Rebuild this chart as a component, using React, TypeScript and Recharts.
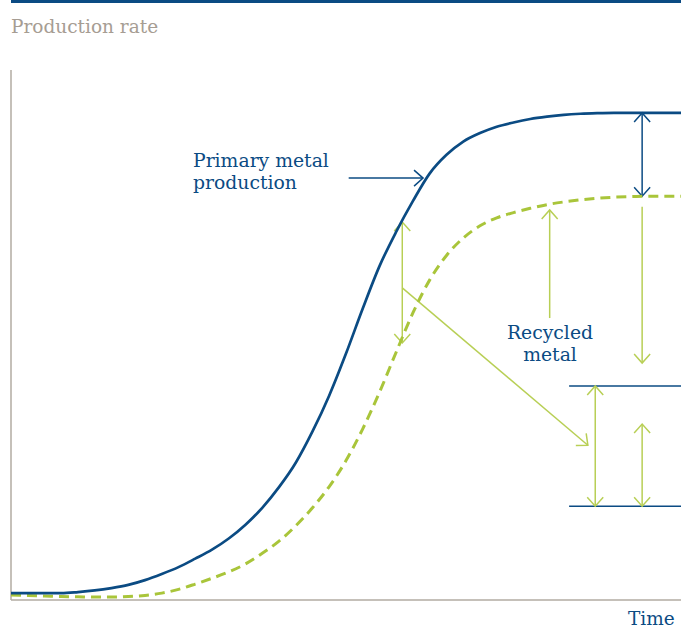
import { LineChart, Line, XAxis, YAxis, ReferenceLine } from 'recharts';

const BLUE = '#0b4b83';
const GREEN = '#a9c53a';
const GREEN_LIGHT = '#b8cf55';
const GRAY = '#b2aba2';

// time (0-100) and production rate (0-100)
const time = [
  0, 2.5, 5, 7.5, 10, 12.5, 15, 17.5, 20, 22.5, 25, 27.5, 30, 32.5, 35, 37.5, 40, 42.5, 45, 47.5,
  50, 52.5, 55, 57.5, 60, 62.5, 65, 67.5, 70, 72.5, 75, 77.5, 80, 82.5, 85, 87.5, 90, 92.5, 95, 97.5, 100,
];
const primary = [
  1.3, 1.3, 1.3, 1.3, 1.5, 1.8, 2.25, 2.85, 3.75, 4.9, 6.2, 7.8, 9.5, 11.6, 14.2, 17.4, 21.3, 25.9, 31.8, 38.6,
  46.5, 55.0, 63.0, 69.5, 75.3, 80.5, 84.0, 86.5, 88.1, 89.3, 90.1, 90.75, 91.2, 91.55, 91.75, 91.85, 91.9, 91.9, 91.9, 91.9, 91.9,
];
const recycled = [
  0.95, 0.85, 0.75, 0.65, 0.6, 0.57, 0.57, 0.65, 0.85, 1.3, 2.0, 3.0, 4.1, 5.3, 6.8, 8.8, 11.1, 14.0, 17.4, 21.4,
  26.3, 32.3, 39.2, 46.8, 54.2, 60.4, 65.0, 68.3, 70.6, 72.1, 73.1, 73.9, 74.6, 75.1, 75.5, 75.8, 76.0, 76.1, 76.2, 76.2, 76.2,
];

const data = time.map((t, i) => ({ t, primary: primary[i], recycled: recycled[i] }));

type Head = 'none' | 'end' | 'both';
interface Arrow {
  from: [number, number];
  to: [number, number];
  head: Head;
  color: string;
}

// annotation arrows, in chart units
const arrows: Arrow[] = [
  { from: [50.4, 79.6], to: [61.5, 79.6], head: 'end', color: BLUE },
  { from: [94.2, 76.2], to: [94.2, 91.9], head: 'both', color: BLUE },
  { from: [58.4, 48.5], to: [58.4, 71.3], head: 'both', color: GREEN_LIGHT },
  { from: [80.4, 53.2], to: [80.4, 73.6], head: 'end', color: GREEN_LIGHT },
  { from: [94.2, 74.2], to: [94.2, 44.7], head: 'end', color: GREEN_LIGHT },
  { from: [58.4, 58.9], to: [86.1, 29.2], head: 'end', color: GREEN_LIGHT },
  { from: [83.3, 40.4], to: [100, 40.4], head: 'none', color: BLUE },
  { from: [83.3, 17.7], to: [100, 17.7], head: 'none', color: BLUE },
  { from: [87.2, 17.7], to: [87.2, 40.4], head: 'both', color: GREEN_LIGHT },
  { from: [94.2, 17.7], to: [94.2, 33.2], head: 'both', color: GREEN_LIGHT },
];

function headPath(x1: number, y1: number, x2: number, y2: number) {
  const dx = x2 - x1;
  const dy = y2 - y1;
  const len = Math.hypot(dx, dy) || 1;
  const ux = dx / len;
  const uy = dy / len;
  const back = 9;
  const side = 8;
  const bx = x2 - ux * back;
  const by = y2 - uy * back;
  return `M${bx - uy * side},${by + ux * side} L${x2},${y2} L${bx + uy * side},${by - ux * side}`;
}

function arrowShape(head: Head, color: string) {
  return (p: any) => {
    const { x1, y1, x2, y2 } = p;
    return (
      <g>
        <line x1={x1} y1={y1} x2={x2} y2={y2} stroke={color} strokeWidth={1.5} />
        {head !== 'none' && <path d={headPath(x1, y1, x2, y2)} fill="none" stroke={color} strokeWidth={1.5} />}
        {head === 'both' && <path d={headPath(x2, y2, x1, y1)} fill="none" stroke={color} strokeWidth={1.5} />}
      </g>
    );
  };
}

const serif = '"DejaVu Serif", serif';
const labelText = { position: 'absolute' as const, fontFamily: serif, fontSize: 18.8, lineHeight: '22px', color: BLUE };

export default function App() {
  return (
    <div style={{ position: 'absolute', left: 0, top: 0, width: 681, height: 628, background: '#fff', overflow: 'hidden' }}>
      <div style={{ position: 'absolute', left: 11, top: 0, width: 670, height: 3, background: BLUE }} />
      <div style={{ ...labelText, left: 11, top: 16, fontSize: 18.5, color: '#a69d93' }}>Production rate</div>
      <LineChart width={681} height={628} data={data} margin={{ top: 70, right: 0, bottom: 28, left: 11 }}>
        <XAxis dataKey="t" type="number" domain={[0, 100]} hide />
        <YAxis type="number" domain={[0, 100]} hide />
        <ReferenceLine x={0} stroke={GRAY} strokeWidth={1.5} />
        <ReferenceLine y={0} stroke={GRAY} strokeWidth={1.5} />
        {arrows.map((a, i) => (
          <ReferenceLine
            key={i}
            segment={[{ x: a.from[0], y: a.from[1] }, { x: a.to[0], y: a.to[1] }]}
            ifOverflow="visible"
            shape={arrowShape(a.head, a.color)}
          />
        ))}
        <Line
          type="monotone"
          dataKey="recycled"
          stroke={GREEN}
          strokeWidth={3}
          strokeDasharray="10 6"
          dot={false}
          isAnimationActive={false}
        />
        <Line
          type="monotone"
          dataKey="primary"
          stroke={BLUE}
          strokeWidth={2.7}
          dot={false}
          isAnimationActive={false}
        />
      </LineChart>
      <div style={{ ...labelText, left: 193, top: 150 }}>
        Primary metal
        <br />
        production
      </div>
      <div style={{ ...labelText, left: 490, top: 322, width: 120, textAlign: 'center' }}>
        Recycled
        <br />
        metal
      </div>
      <div style={{ ...labelText, left: 628, top: 611, fontSize: 18.5, lineHeight: '16px' }}>Time</div>
    </div>
  );
}
